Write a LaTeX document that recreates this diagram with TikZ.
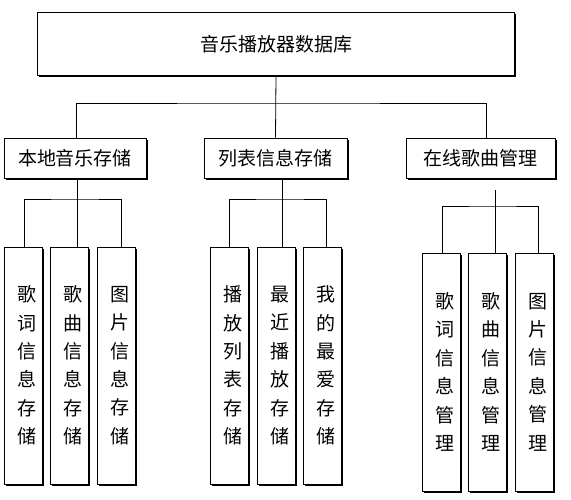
\documentclass[tikz,border=0pt]{standalone}
\usepackage{fontspec}
\newfontfamily\cjk{Noto Sans CJK SC}
\usetikzlibrary{shadows}
\begin{document}
\begin{tikzpicture}[x=1pt,y=-1pt,
  box/.style={draw,line width=0.9pt,fill=white,inner sep=0pt,
    drop shadow={shadow xshift=1.6pt,shadow yshift=-1.6pt,opacity=1,fill=black},
    font=\cjk\fontsize{19}{22}\selectfont},
  hbox/.style={box,minimum height=40pt},
  vbox/.style={box,minimum width=38pt},
  vtext/.style={align=center,inner sep=0pt,font=\cjk\fontsize{19}{28.4}\selectfont},
  conn/.style={line width=0.8pt}]
\useasboundingbox (0,0) rectangle (571,499);
% top
\node[box,minimum width=477pt,minimum height=63pt] (top) at (276,44) {音乐播放器数据库};
% second level
\node[hbox,minimum width=142pt] (b1) at (75,158) {本地音乐存储};
\node[hbox,minimum width=143pt] (b2) at (275.5,158) {列表信息存储};
\node[hbox,minimum width=149pt] (b3) at (480.5,158) {在线歌曲管理};
% third level, group 1
\node[vbox,minimum height=237pt,label={[vtext,xshift=3.5pt]center:歌\\词\\信\\息\\存\\储}] (c1a) at (23,365.5) {};
\node[vbox,minimum height=237pt,label={[vtext,xshift=3.5pt]center:歌\\曲\\信\\息\\存\\储}] (c1b) at (69,365.5) {};
\node[vbox,minimum height=237pt,label={[vtext,xshift=3.5pt]center:图\\片\\信\\息\\存\\储}] (c1c) at (116,365.5) {};
% group 2
\node[vbox,minimum height=237pt,label={[vtext,xshift=3.5pt]center:播\\放\\列\\表\\存\\储}] (c2a) at (229,365.5) {};
\node[vbox,minimum height=237pt,label={[vtext,xshift=3.5pt]center:最\\近\\播\\放\\存\\储}] (c2b) at (276,365.5) {};
\node[vbox,minimum height=237pt,label={[vtext,xshift=3.5pt]center:我\\的\\最\\爱\\存\\储}] (c2c) at (322,365.5) {};
% group 3
\node[vbox,minimum height=238pt,label={[vtext,xshift=3.5pt]center:歌\\词\\信\\息\\管\\理}] (c3a) at (441,372) {};
\node[vbox,minimum height=238pt,label={[vtext,xshift=3.5pt]center:歌\\曲\\信\\息\\管\\理}] (c3b) at (487,372) {};
\node[vbox,minimum height=238pt,label={[vtext,xshift=3.5pt]center:图\\片\\信\\息\\管\\理}] (c3c) at (534,372) {};
% connectors top -> second
\coordinate (j0) at (275.5,103);
\draw[conn] (top.south) -- (b2.north);
\draw[conn] ([xshift=1pt]b1.north) |- (j0) -| ([xshift=5.5pt]b3.north);
% group 1
\coordinate (j1) at (77,199);
\draw[conn] ([xshift=2pt]b1.south) -- (j1);
\draw[conn] ([xshift=1pt]c1a.north) |- (j1) -| ([xshift=5pt]c1c.north);
\draw[conn] (j1) -- (j1 |- c1b.north);
% group 2
\coordinate (j2) at (282,199);
\draw[conn] ([xshift=6.5pt]b2.south) -- (j2);
\draw[conn] (c2a.north) |- (j2) -| ([xshift=4pt]c2c.north);
\draw[conn] (j2) -- (j2 |- c2b.north);
% group 3
\coordinate (s3) at (495,190);
\coordinate (j3) at (495,206);
\draw[conn] (s3) -- (j3);
\draw[conn] ([xshift=1pt]c3a.north) |- (j3) -| ([xshift=4pt]c3c.north);
\draw[conn] (j3) -- (j3 |- c3b.north);
\end{tikzpicture}
\end{document}
